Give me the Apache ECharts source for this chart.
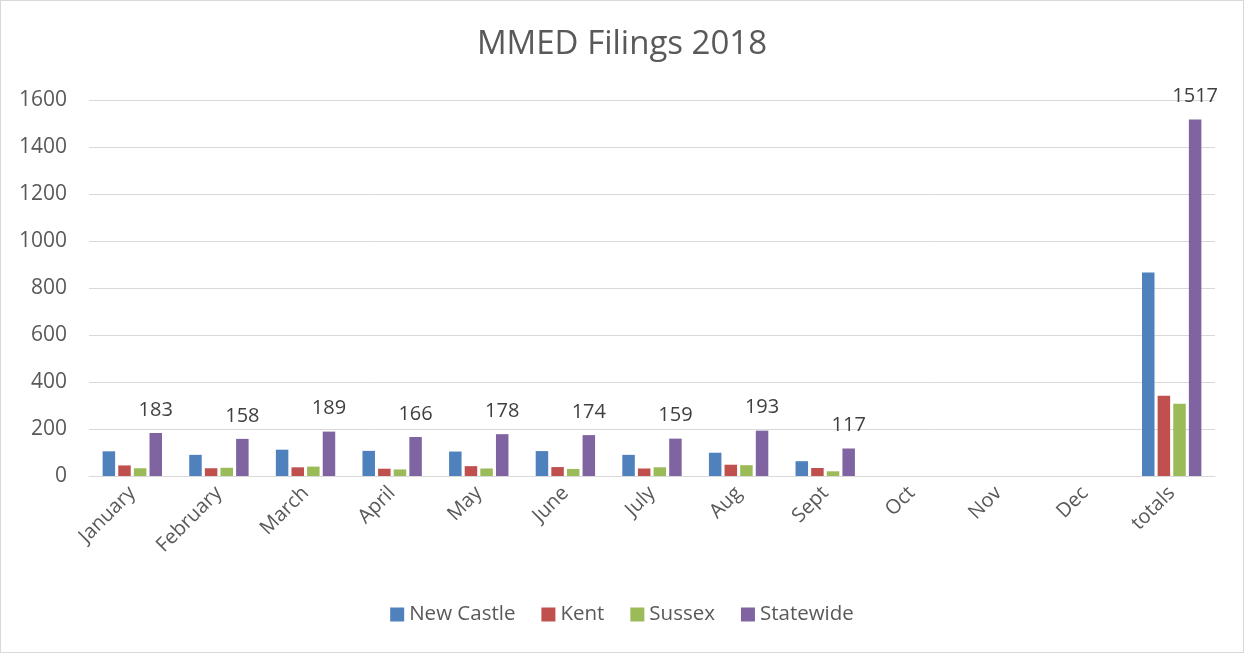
<!DOCTYPE html>
<html>
<head>
<meta charset="utf-8">
<script src="https://cdn.jsdelivr.net/npm/echarts@6/dist/echarts.min.js"></script>
<style>
  html, body { margin: 0; padding: 0; background: #fff; }
  #chart { width: 1242px; height: 651px; border: 1px solid #d9d9d9; }
</style>
</head>
<body>
<div id="chart"></div>
<script>
const months = ['January', 'February', 'March', 'April', 'May', 'June', 'July', 'Aug', 'Sept', 'Oct', 'Nov', 'Dec', 'totals'];
const newCastle = [105, 90, 112, 107, 104, 106, 90, 99, 63, null, null, null, 866];
const kent = [45, 33, 37, 31, 42, 38, 32, 48, 34, null, null, null, 341];
const sussex = [33, 35, 40, 28, 32, 30, 37, 46, 20, null, null, null, 307];
const statewide = [183, 158, 189, 166, 178, 174, 159, 193, 117, null, null, null, 1517];

const font = '"Open Sans", sans-serif';
let myChart = echarts.init(document.getElementById('chart'));

function bar(name, data, color, withLabel) {
    return {
        name: name,
        type: 'bar',
        data: data,
        barWidth: 12.5,
        barGap: '25%',
        itemStyle: { color: color },
        label: {
            show: withLabel,
            position: 'top',
            distance: 13,
            color: '#404040',
            fontSize: 20,
            fontFamily: font
        }
    };
}

var option = {
    animation: false,
    title: {
        text: 'MMED Filings 2018',
        left: 'center',
        top: 22,
        textStyle: { color: '#595959', fontSize: 33, fontWeight: 'normal', fontFamily: font }
    },
    grid: { left: 88, right: 28, top: 99, bottom: 176 },
    legend: {
        bottom: 22,
        left: 'center',
        itemWidth: 14,
        itemHeight: 14,
        itemGap: 26,
        icon: 'rect',
        textStyle: { color: '#595959', fontSize: 20.5, fontFamily: font }
    },
    xAxis: {
        type: 'category',
        data: months,
        axisLine: { lineStyle: { color: '#d9d9d9' } },
        axisTick: { show: false },
        axisLabel: { rotate: 45, color: '#595959', fontSize: 20, fontFamily: font, interval: 0, margin: 14 }
    },
    yAxis: {
        type: 'value',
        min: 0,
        max: 1600,
        interval: 200,
        axisLine: { show: false },
        axisTick: { show: false },
        splitLine: { lineStyle: { color: '#d9d9d9' } },
        axisLabel: { color: '#595959', fontSize: 21, fontFamily: font, margin: 22, formatter: (v) => String(v) }
    },
    series: [
        bar('New Castle', newCastle, '#4f81bd', false),
        bar('Kent', kent, '#c0504d', false),
        bar('Sussex', sussex, '#9bbb59', false),
        bar('Statewide', statewide, '#8064a2', true)
    ]
};

myChart.setOption(option);
window.addEventListener('resize', () => { myChart.resize(); });
</script>
</body>
</html>
